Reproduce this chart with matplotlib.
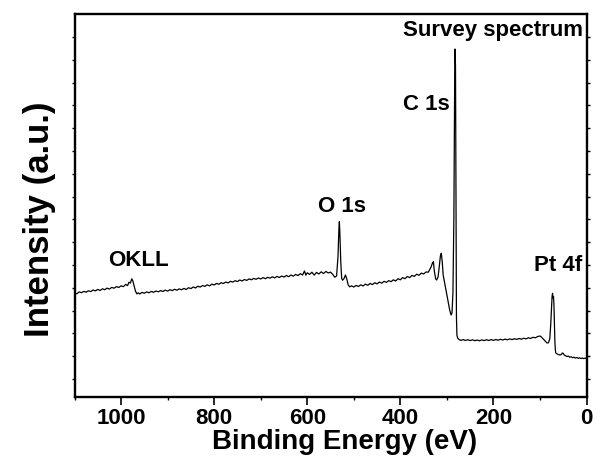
import numpy as np
import matplotlib
matplotlib.use("Agg")
import matplotlib.pyplot as plt
from matplotlib.ticker import MultipleLocator, FixedLocator

plt.rcParams['font.family'] = ['Liberation Sans', 'DejaVu Sans']
plt.rcParams['font.weight'] = 'bold'

# binding energy (eV) and intensity (a.u.)
energy = [
    1100, 1095, 1090, 1085, 1080, 1075, 1070, 1065, 1060, 1055, 1050, 1045, 1040, 1035,
    1030, 1025, 1020, 1015, 1010, 1005, 1000, 995, 990, 986, 983, 980, 977, 975, 972,
    969, 966, 963, 960, 955, 950, 945, 940, 935, 930, 925, 920, 915, 910, 905, 900,
    895, 890, 885, 880, 875, 870, 865, 860, 855, 850, 845, 840, 835, 830, 825, 820,
    815, 810, 805, 800, 795, 790, 785, 780, 775, 770, 765, 760, 755, 750, 745, 740,
    735, 730, 725, 720, 715, 710, 705, 700, 695, 690, 685, 680, 675, 670, 665, 660,
    655, 650, 645, 640, 635, 630, 625, 620, 615, 610, 606, 603, 600, 595, 590, 585,
    580, 575, 570, 565, 560, 555, 550, 545, 541, 537, 534, 532, 531, 530, 528, 526,
    524, 521, 518, 515, 512, 509, 505, 500, 495, 490, 485, 480, 475, 470, 465, 460,
    455, 450, 445, 440, 435, 430, 425, 420, 415, 410, 405, 400, 395, 390, 385, 380,
    375, 370, 365, 360, 355, 350, 345, 340, 337, 334, 331, 329, 327, 324, 322, 319,
    316, 314, 312, 310, 308, 306, 303, 300, 297, 294, 291, 289, 287, 285, 283.5, 282.5,
    281.5, 280.5, 279.5, 278.5, 277, 274, 270, 265, 260, 255, 250, 245, 240, 235, 230,
    225, 220, 215, 210, 205, 200, 195, 190, 185, 180, 175, 170, 165, 160, 155, 150,
    145, 140, 135, 130, 125, 120, 115, 110, 105, 100, 97, 94, 91, 88, 85, 82, 79, 77,
    75, 74, 73, 72, 71, 70, 69, 68, 67, 66, 63, 60, 57, 54, 52, 50, 48, 45, 42, 39,
    36, 33, 30, 27, 24, 21, 18, 15, 12, 9, 6, 3, 0,
]
intensity = [
    104.0, 103.2, 105.1, 104.3, 105.6, 104.8, 106.2, 105.4, 107.0, 106.1, 107.6, 106.5, 108.2, 107.3,
    108.9, 107.9, 109.6, 108.8, 110.4, 109.5, 111.2, 110.3, 112.6, 111.4, 114.8, 113.9, 118.2, 116.5, 111.0,
    105.8, 103.1, 104.2, 103.0, 104.6, 103.8, 105.1, 104.2, 105.6, 104.7, 106.0, 105.2, 106.4, 105.5, 106.9, 105.9,
    107.3, 106.4, 107.7, 106.8, 108.1, 107.2, 108.6, 107.5, 109.3, 108.4, 110.0, 109.0, 110.8, 109.9, 111.5, 110.6,
    112.2, 111.1, 112.9, 112.0, 113.6, 112.7, 114.3, 113.5, 115.0, 114.1, 115.7, 114.9, 116.3, 115.4, 117.0, 116.0,
    117.5, 116.6, 118.1, 117.2, 118.6, 117.7, 119.0, 118.0, 119.4, 118.3, 119.7, 118.8, 120.2, 119.1, 120.6, 119.5,
    121.0, 119.9, 121.5, 120.3, 122.0, 120.8, 122.6, 121.4, 123.3, 122.0, 126.0, 121.8, 124.2, 122.6, 124.8, 121.9,
    124.6, 123.0, 125.2, 123.4, 125.6, 124.0, 124.9, 122.5, 119.8, 121.0, 140.0, 168.0, 175.3, 165.0, 135.0, 118.5,
    116.8, 118.4, 122.0, 118.0, 112.0, 110.2, 111.1, 110.0, 111.6, 110.5, 112.2, 111.0, 112.9, 111.7, 113.6, 112.4,
    114.3, 113.1, 115.0, 113.8, 115.7, 114.6, 116.4, 115.3, 117.2, 116.0, 118.3, 117.2, 119.4, 118.3, 120.5, 119.4,
    121.6, 120.6, 122.8, 121.7, 123.9, 123.0, 125.0, 124.8, 127.5, 130.0, 134.0, 135.3, 126.0, 118.0, 117.0, 120.0,
    132.0, 141.0, 143.7, 135.0, 122.0, 117.0, 110.0, 102.0, 94.0, 87.0, 82.0, 84.0, 105.0, 180.0, 300.0, 348.0,
    330.0, 200.0, 80.0, 62.0, 59.0, 57.5, 56.6, 57.4, 56.5, 57.3, 56.4, 57.2, 56.3, 57.0, 56.2,
    57.1, 56.4, 57.3, 56.5, 57.4, 56.6, 57.5, 56.8, 57.7, 57.0, 57.9, 57.2, 58.1, 57.4, 58.3, 57.6,
    58.5, 57.8, 58.8, 58.1, 59.2, 58.6, 59.7, 59.2, 60.5, 61.0, 60.0, 58.5, 57.0, 55.5, 54.0, 54.2, 58.0, 72.0,
    92.0, 101.0, 103.7, 99.0, 100.5, 92.0, 75.0, 55.0, 47.0, 44.0, 43.0, 42.4, 42.0, 42.6, 44.0, 43.6, 42.0, 41.2, 40.5, 40.9,
    39.8, 40.2, 39.3, 39.8, 38.9, 39.5, 38.7, 39.2, 38.5, 39.0, 38.4, 38.9, 38.6,
]

peak_labels = ["Survey spectrum", "C 1s", "O 1s", "OKLL", "Pt 4f"]
label_x = [7.5, 294.7, 576.8, 1027.3, 112.8]
label_y = [361, 287, 185.3, 131.3, 126.3]
label_ha = ["right", "right", "left", "left", "left"]

fig = plt.figure(figsize=(5.99, 4.75), dpi=100)
ax = fig.add_axes([0.1244, 0.1642, 0.8548, 0.8053])

ax.plot(energy, intensity, color='black', linewidth=0.9)

ax.set_xlim(1100, 0)
ax.set_ylim(0, 382.5)

for i in range(len(peak_labels)):
    ax.text(label_x[i], label_y[i], peak_labels[i], ha=label_ha[i], va='baseline',
            fontsize=16, fontweight='bold')

ax.xaxis.set_major_locator(MultipleLocator(200))
ax.xaxis.set_minor_locator(MultipleLocator(100))
ax.yaxis.set_major_locator(FixedLocator(np.arange(360, 0, -22.8)))
ax.tick_params(axis='x', which='major', direction='out', length=5.5, width=1.2,
               labelsize=16, pad=2.5)
ax.tick_params(axis='x', which='minor', direction='out', length=2.5, width=1.0)
ax.tick_params(axis='y', which='major', direction='out', length=2, width=1.0,
               left=True, right=True, labelleft=False)
for lab in ax.get_xticklabels():
    lab.set_fontweight('bold')

for sp in ax.spines.values():
    sp.set_linewidth(1.7)

ax.set_xlabel("Binding Energy (eV)", fontsize=20, fontweight='bold')
ax.xaxis.set_label_coords(0.528, -0.084)
ax.set_ylabel("Intensity (a.u.)", fontsize=25, fontweight='bold')
ax.yaxis.set_label_coords(-0.036, 0.465)

fig.savefig("out.png", dpi=100)
